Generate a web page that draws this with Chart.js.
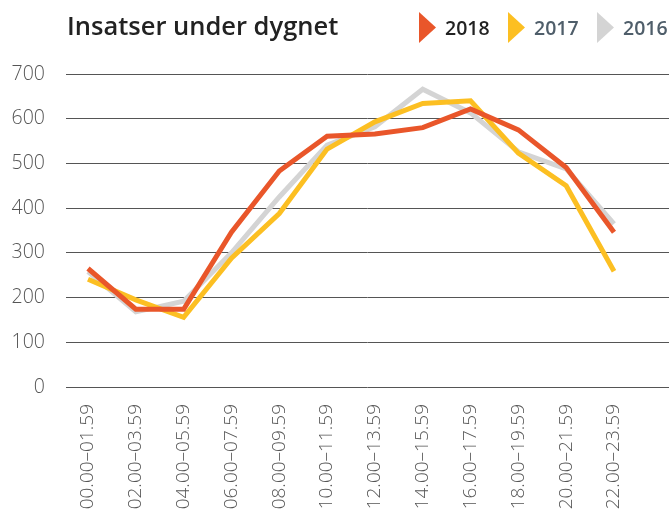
<!DOCTYPE html>
<html>
<head>
<meta charset="utf-8">
<script src="https://cdn.jsdelivr.net/npm/chart.js@4.4.0/dist/chart.umd.min.js"></script>
<style>
    html, body { margin: 0; padding: 0; background: #fff; }
    #wrap { position: relative; width: 669px; height: 510px; overflow: hidden; }
    #chart { position: absolute; left: 0; top: 0; }
    .title {
        position: absolute; left: 67px; top: 8px;
        font-family: "Open Sans", sans-serif; font-weight: 600; font-size: 25.5px; color: #222;
    }
    .legend { position: absolute; top: 12px; display: flex; align-items: center; }
    .legend .tri { width: 17px; height: 31px; clip-path: polygon(0 0, 100% 50%, 0 100%); margin-right: 9px; }
    .legend span {
        font-family: "Open Sans", sans-serif; font-weight: 600; font-size: 19.5px; color: #4f5e6a;
    }
</style>
</head>
<body>
<div id="wrap">
    <canvas id="chart" width="669" height="510"></canvas>
    <div class="title">Insatser under dygnet</div>
    <div class="legend" style="left:419px"><div class="tri" style="background:#e9562a"></div><span style="color:#222">2018</span></div>
    <div class="legend" style="left:508px"><div class="tri" style="background:#fcbf22"></div><span>2017</span></div>
    <div class="legend" style="left:597px"><div class="tri" style="background:#d4d4d4"></div><span>2016</span></div>
</div>
<script>
const timeSlots = ['00.00–01.59', '02.00–03.59', '04.00–05.59', '06.00–07.59', '08.00–09.59', '10.00–11.59',
    '12.00–13.59', '14.00–15.59', '16.00–17.59', '18.00–19.59', '20.00–21.59', '22.00–23.59'];
const values2018 = [265, 174, 174, 346, 483, 561, 566, 580, 622, 575, 491, 346];
const values2017 = [241, 195, 156, 288, 388, 532, 593, 634, 640, 523, 450, 259];
const values2016 = [258, 168, 192, 300, 425, 541, 582, 666, 613, 526, 488, 365];
const yTicks = [0, 100, 200, 300, 400, 500, 600, 700];

function toPoints(arr) {
    return arr.map((v, i) => ({ x: i, y: v }));
}

const ctx = document.getElementById('chart').getContext('2d');
new Chart(ctx, {
    type: 'line',
    data: {
        datasets: [
            { label: '2016', data: toPoints(values2016), borderColor: '#d4d4d4', borderWidth: 5, order: 3 },
            { label: '2017', data: toPoints(values2017), borderColor: '#fcbf22', borderWidth: 5, order: 2 },
            { label: '2018', data: toPoints(values2018), borderColor: '#e9562a', borderWidth: 5, order: 1 }
        ]
    },
    options: {
        responsive: false,
        animation: false,
        layout: { padding: { top: 74, right: 0, left: 0, bottom: 0 } },
        elements: {
            point: { radius: 0 },
            line: { tension: 0, borderJoinStyle: 'miter', borderCapStyle: 'butt', fill: false }
        },
        plugins: { legend: { display: false }, tooltip: { enabled: false } },
        scales: {
            x: {
                type: 'linear',
                min: -0.46,
                max: 12.15,
                grid: { display: false },
                border: { display: false },
                afterBuildTicks: s => { s.ticks = timeSlots.map((t, i) => ({ value: i })); },
                afterFit: s => { s.height = 123; },
                ticks: {
                    minRotation: 90,
                    maxRotation: 90,
                    padding: 9,
                    color: '#555',
                    font: { family: 'Open Sans', size: 19, weight: 300 },
                    callback: v => timeSlots[v]
                }
            },
            y: {
                min: 0,
                max: 700,
                afterBuildTicks: s => { s.ticks = yTicks.map(v => ({ value: v })); },
                afterFit: s => { s.width = 66; },
                grid: { color: '#555', lineWidth: 1, drawTicks: false },
                border: { display: false },
                ticks: {
                    padding: 21,
                    color: '#555',
                    font: { family: 'Open Sans', size: 19.5, weight: 300 }
                }
            }
        }
    }
});
</script>
</body>
</html>
